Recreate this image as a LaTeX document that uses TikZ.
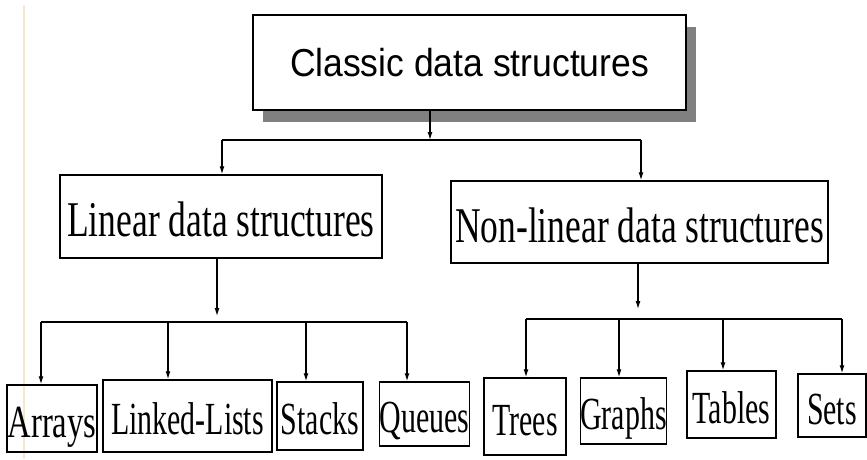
\documentclass[tikz,border=0pt]{standalone}
\usepackage{fontspec}
\usetikzlibrary{calc, shadows}
\usetikzlibrary{arrows.meta}
\newfontfamily\rootfont[FakeStretch=0.91]{Liberation Sans}
\newfontfamily\kindfont[FakeStretch=0.71]{Liberation Serif}
\newfontfamily\leaffont[FakeStretch=0.65]{Liberation Serif}
\newfontfamily\wideleaffont[FakeStretch=0.71]{Liberation Serif}
\definecolor{pagerule}{RGB}{246,232,205}
\definecolor{shadowgray}{RGB}{128,128,128}
\tikzstyle{root-box}=[
draw,
fill=white,
line width=1.5pt,
inner sep=0pt,
text height=27pt,
text depth=0pt,
font={\rootfont\fontsize{39}{44}\selectfont},
drop shadow={shadow xshift=10pt, shadow yshift=-12pt, fill=shadowgray, opacity=1},
]
\tikzstyle{kind-box}=[
draw,
line width=1.5pt,
inner sep=0pt,
text height=40pt,
text depth=0pt,
font={\kindfont\fontsize{50}{55}\selectfont},
]
\tikzstyle{leaf-box}=[
draw,
line width=1.5pt,
inner sep=0pt,
text height=37pt,
text depth=0pt,
font={\leaffont\fontsize{46}{50}\selectfont},
]
\tikzstyle{down-arrow}=[
line width=1.2pt,
-{Latex[length=8pt,width=5pt]},
]

\begin{document}
\begin{tikzpicture}[x=1pt, y=-1pt]
        \useasboundingbox (0,0) rectangle (867,459);
        \newcommand{\leafbox}[6]
        {
          \node[leaf-box, minimum width=#4pt, minimum height=#5pt] (#1) at (#2,#3) {#6};
        }
        \draw[pagerule, line width=2pt] (24,5) -- (24,459);

        \node[root-box, minimum width=433pt, minimum height=95pt] (root) at (469.5,62.5) {Classic data structures};

        \node[kind-box, minimum width=322pt, minimum height=83pt] (linear) at (221,216.5) {Linear data structures};
        \node[kind-box, minimum width=377pt, minimum height=82pt] (nonlinear) at (639.5,222) {Non-linear data structures};

        \leafbox{arrays}{52}{418.5}{90}{67}{\wideleaffont Arrays}
        \leafbox{linked}{187.5}{416}{169}{72}{Linked-Lists}
        \leafbox{stacks}{320}{416}{86}{68}{Stacks}
        \leafbox{queues}{424.5}{414}{85}{64}{Queues}
        \leafbox{trees}{525}{416.5}{82}{77}{Trees}
        \leafbox{graphs}{623.5}{411}{83}{66}{Graphs}
        \leafbox{tables}{731.5}{404.5}{89}{67}{Tables}
        \leafbox{sets}{832}{405.5}{68}{63}{Sets}

        % top level
        \coordinate (root-out) at (430,140);
        \coordinate (top-bus-l) at (222,140);
        \coordinate (top-bus-r) at (641,140);
        \draw[down-arrow] (root-out |- root.south) -- (root-out);
        \draw[line width=1.2pt] (top-bus-l) -- (top-bus-r);
        \draw[down-arrow] (top-bus-l) -- (top-bus-l |- linear.north);
        \draw[down-arrow] (top-bus-r) -- (top-bus-r |- nonlinear.north);

        % linear
        \coordinate (lin-in) at (217,322);
        \coordinate (lin-bus-1) at (41,322);
        \coordinate (lin-bus-2) at (168,322);
        \coordinate (lin-bus-3) at (306,322);
        \coordinate (lin-bus-4) at (407,322);
        \draw[down-arrow, shorten >=6pt] (lin-in |- linear.south) -- (lin-in);
        \draw[line width=1.2pt] (lin-bus-1) -- (lin-bus-4);
        \foreach \i/\leaf in {1/arrays, 2/linked, 3/stacks, 4/queues}
          \draw[down-arrow] (lin-bus-\i) -- (lin-bus-\i |- \leaf.north);

        % non-linear
        \coordinate (non-in) at (638,319);
        \coordinate (non-bus-1) at (526,319);
        \coordinate (non-bus-2) at (619,319);
        \coordinate (non-bus-3) at (723,319);
        \coordinate (non-bus-4) at (842,319);
        \draw[down-arrow, shorten >=10pt] (non-in |- nonlinear.south) -- (non-in);
        \draw[line width=1.2pt] (non-bus-1) -- (non-bus-4);
        \foreach \i/\leaf in {1/trees, 2/graphs, 3/tables, 4/sets}
          \draw[down-arrow] (non-bus-\i) -- (non-bus-\i |- \leaf.north);
      \end{tikzpicture}
\end{document}
